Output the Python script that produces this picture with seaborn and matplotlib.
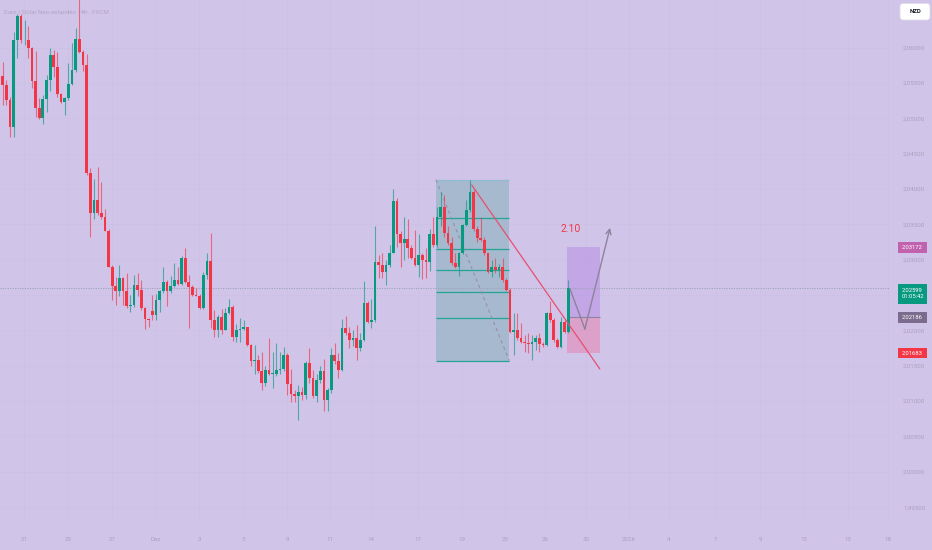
import numpy as np
import matplotlib.pyplot as plt
import matplotlib.transforms as mtransforms
from matplotlib.patches import Rectangle, FancyBboxPatch
import seaborn as sns

bg = "#d1c4e9"
sns.set_theme(style="white", rc={"axes.facecolor": bg, "figure.facecolor": bg})
plt.rcParams["font.family"] = ["Roboto", "DejaVu Sans"]

# EUR/NZD 4h candles
opens = [
    2.0560, 2.0547, 2.0526, 2.0487, 2.0611, 2.0645, 2.0610, 2.0611, 2.0599, 2.0552,
    2.0514, 2.0500, 2.0527, 2.0554, 2.0589, 2.0573, 2.0534, 2.0523, 2.0528, 2.0549,
    2.0568, 2.0612, 2.0594, 2.0575, 2.0422, 2.0366, 2.0384, 2.0366, 2.0361, 2.0341,
    2.0290, 2.0263, 2.0255, 2.0274, 2.0255, 2.0234, 2.0236, 2.0264, 2.0257, 2.0231,
    2.0216, 2.0228, 2.0222, 2.0243, 2.0255, 2.0269, 2.0255, 2.0263, 2.0271, 2.0266,
    2.0302, 2.0269, 2.0262, 2.0250, 2.0249, 2.0231, 2.0278, 2.0298, 2.0215, 2.0201,
    2.0219, 2.0201, 2.0224, 2.0233, 2.0190, 2.0200, 2.0202, 2.0205, 2.0179, 2.0156,
    2.0158, 2.0143, 2.0126, 2.0144, 2.0138, 2.0139, 2.0144, 2.0145, 2.0165, 2.0124,
    2.0110, 2.0107, 2.0113, 2.0109, 2.0154, 2.0132, 2.0107, 2.0130, 2.0142, 2.0102,
    2.0115, 2.0165, 2.0156, 2.0144, 2.0204, 2.0196, 2.0187, 2.0189, 2.0175, 2.0187,
    2.0239, 2.0212, 2.0214, 2.0296, 2.0293, 2.0282, 2.0292, 2.0310, 2.0383, 2.0336,
    2.0324, 2.0329, 2.0317, 2.0303, 2.0292, 2.0307, 2.0300, 2.0297, 2.0336, 2.0321,
    2.0361, 2.0375, 2.0337, 2.0323, 2.0295, 2.0289, 2.0309, 2.0349, 2.0370, 2.0396,
    2.0344, 2.0330, 2.0328, 2.0309, 2.0283, 2.0290, 2.0285, 2.0290, 2.0271, 2.0257,
    2.0198, 2.0201, 2.0189, 2.0184, 2.0182, 2.0181, 2.0183, 2.0189, 2.0181, 2.0179,
    2.0224, 2.0215, 2.0186, 2.0177, 2.0212, 2.0198,
]
highs = [
    2.0580, 2.0554, 2.0530, 2.0622, 2.0647, 2.0647, 2.0639, 2.0630, 2.0601, 2.0595,
    2.0529, 2.0533, 2.0561, 2.0599, 2.0596, 2.0594, 2.0536, 2.0530, 2.0578, 2.0606,
    2.0627, 2.0670, 2.0596, 2.0591, 2.0429, 2.0414, 2.0431, 2.0410, 2.0371, 2.0343,
    2.0292, 2.0276, 2.0292, 2.0276, 2.0281, 2.0250, 2.0278, 2.0281, 2.0271, 2.0233,
    2.0218, 2.0250, 2.0252, 2.0257, 2.0290, 2.0271, 2.0277, 2.0295, 2.0289, 2.0305,
    2.0316, 2.0278, 2.0264, 2.0260, 2.0251, 2.0282, 2.0309, 2.0338, 2.0229, 2.0222,
    2.0230, 2.0231, 2.0244, 2.0236, 2.0209, 2.0218, 2.0215, 2.0205, 2.0181, 2.0179,
    2.0165, 2.0170, 2.0149, 2.0189, 2.0170, 2.0182, 2.0170, 2.0176, 2.0168, 2.0146,
    2.0116, 2.0123, 2.0120, 2.0156, 2.0175, 2.0144, 2.0139, 2.0150, 2.0160, 2.0118,
    2.0175, 2.0182, 2.0168, 2.0216, 2.0220, 2.0205, 2.0201, 2.0208, 2.0196, 2.0270,
    2.0241, 2.0245, 2.0348, 2.0307, 2.0309, 2.0300, 2.0321, 2.0400, 2.0387, 2.0340,
    2.0361, 2.0358, 2.0321, 2.0342, 2.0336, 2.0309, 2.0316, 2.0344, 2.0361, 2.0375,
    2.0396, 2.0391, 2.0347, 2.0332, 2.0309, 2.0311, 2.0351, 2.0384, 2.0413, 2.0399,
    2.0347, 2.0361, 2.0332, 2.0309, 2.0300, 2.0302, 2.0294, 2.0302, 2.0274, 2.0260,
    2.0224, 2.0224, 2.0210, 2.0193, 2.0196, 2.0193, 2.0193, 2.0196, 2.0184, 2.0226,
    2.0241, 2.0217, 2.0189, 2.0219, 2.0215, 2.0271,
]
lows = [
    2.0519, 2.0519, 2.0473, 2.0474, 2.0585, 2.0606, 2.0604, 2.0585, 2.0543, 2.0502,
    2.0499, 2.0492, 2.0509, 2.0538, 2.0559, 2.0530, 2.0522, 2.0505, 2.0526, 2.0547,
    2.0566, 2.0592, 2.0567, 2.0420, 2.0332, 2.0358, 2.0363, 2.0358, 2.0340, 2.0289,
    2.0243, 2.0236, 2.0248, 2.0236, 2.0231, 2.0226, 2.0233, 2.0248, 2.0229, 2.0202,
    2.0205, 2.0215, 2.0215, 2.0226, 2.0253, 2.0234, 2.0253, 2.0262, 2.0264, 2.0264,
    2.0267, 2.0204, 2.0249, 2.0248, 2.0230, 2.0230, 2.0272, 2.0204, 2.0191, 2.0190,
    2.0195, 2.0200, 2.0223, 2.0185, 2.0183, 2.0183, 2.0201, 2.0178, 2.0149, 2.0138,
    2.0140, 2.0115, 2.0121, 2.0137, 2.0118, 2.0135, 2.0139, 2.0142, 2.0109, 2.0099,
    2.0099, 2.0073, 2.0102, 2.0103, 2.0125, 2.0104, 2.0098, 2.0125, 2.0086, 2.0086,
    2.0112, 2.0153, 2.0132, 2.0142, 2.0193, 2.0175, 2.0178, 2.0158, 2.0171, 2.0185,
    2.0210, 2.0204, 2.0212, 2.0274, 2.0274, 2.0264, 2.0289, 2.0309, 2.0318, 2.0290,
    2.0300, 2.0303, 2.0301, 2.0291, 2.0276, 2.0272, 2.0274, 2.0284, 2.0318, 2.0318,
    2.0347, 2.0332, 2.0321, 2.0292, 2.0288, 2.0277, 2.0308, 2.0347, 2.0368, 2.0340,
    2.0325, 2.0326, 2.0307, 2.0281, 2.0276, 2.0281, 2.0276, 2.0269, 2.0256, 2.0196,
    2.0165, 2.0186, 2.0182, 2.0170, 2.0168, 2.0158, 2.0172, 2.0170, 2.0177, 2.0178,
    2.0212, 2.0184, 2.0175, 2.0175, 2.0196, 2.0196,
]
closes = [
    2.0547, 2.0526, 2.0487, 2.0611, 2.0645, 2.0610, 2.0611, 2.0599, 2.0552, 2.0514,
    2.0500, 2.0527, 2.0554, 2.0589, 2.0573, 2.0534, 2.0523, 2.0528, 2.0549, 2.0568,
    2.0612, 2.0594, 2.0575, 2.0422, 2.0366, 2.0384, 2.0366, 2.0361, 2.0341, 2.0290,
    2.0263, 2.0255, 2.0274, 2.0255, 2.0234, 2.0236, 2.0264, 2.0257, 2.0231, 2.0216,
    2.0214, 2.0222, 2.0243, 2.0255, 2.0269, 2.0255, 2.0263, 2.0271, 2.0266, 2.0302,
    2.0269, 2.0262, 2.0250, 2.0249, 2.0231, 2.0278, 2.0298, 2.0215, 2.0201, 2.0219,
    2.0201, 2.0224, 2.0233, 2.0190, 2.0200, 2.0202, 2.0205, 2.0179, 2.0156, 2.0158,
    2.0143, 2.0126, 2.0144, 2.0138, 2.0139, 2.0144, 2.0145, 2.0165, 2.0124, 2.0110,
    2.0107, 2.0113, 2.0109, 2.0154, 2.0132, 2.0107, 2.0130, 2.0142, 2.0102, 2.0115,
    2.0165, 2.0156, 2.0144, 2.0204, 2.0196, 2.0187, 2.0189, 2.0175, 2.0187, 2.0239,
    2.0212, 2.0214, 2.0296, 2.0293, 2.0282, 2.0292, 2.0310, 2.0383, 2.0336, 2.0324,
    2.0329, 2.0317, 2.0303, 2.0292, 2.0307, 2.0300, 2.0297, 2.0336, 2.0321, 2.0361,
    2.0375, 2.0337, 2.0323, 2.0295, 2.0289, 2.0309, 2.0349, 2.0370, 2.0396, 2.0344,
    2.0330, 2.0328, 2.0309, 2.0283, 2.0290, 2.0285, 2.0290, 2.0271, 2.0257, 2.0198,
    2.0201, 2.0189, 2.0184, 2.0182, 2.0181, 2.0183, 2.0189, 2.0181, 2.0179, 2.0224,
    2.0215, 2.0186, 2.0177, 2.0212, 2.0198, 2.02599,
]

time_labels = ["21", "25", "27", "Dez", "3", "5", "9", "11", "14", "17", "19",
               "23", "26", "30", "2026", "4", "7", "9", "13", "15", "18"]
time_pos = [5.8, 17.9, 29.9, 42.0, 53.8, 65.8, 77.9, 89.7, 100.9, 113.8, 125.8,
            137.6, 148.6, 159.8, 171.6, 182.5, 195.4, 207.5, 219.5, 231.6, 242.5]
price_ticks = [1.995, 2.000, 2.005, 2.010, 2.015, 2.020, 2.025,
               2.030, 2.035, 2.040, 2.045, 2.050, 2.055, 2.060]

# fib retracement and long-position drawing
fib_x = [118.7, 138.8]
fib_low, fib_high = 2.0157, 2.0413
fib_levels = [0, 0.236, 0.382, 0.5, 0.618, 0.786, 1]
trend_x = [128.5, 163.6]
trend_y = [2.04056, 2.01454]
pos_x = [154.7, 163.6]
pos_target, pos_entry, pos_stop = 2.03172, 2.02186, 2.01683
path_x = [155.4, 159.5, 166.4]
path_y = [2.0259, 2.0202, 2.0345]
last_price = 2.02599
countdown = "01:05:42"

UP, DOWN = "#089981", "#f23645"
TXT = "#aaa0bc"

fig = plt.figure(figsize=(9.32, 5.5), dpi=100)
AX_W, AX_H = 890, 522
ax = fig.add_axes([0, (550 - AX_H) / 550, AX_W / 932, AX_H / 550])
ax.set_xlim(-0.74, 243.1)
ax.set_ylim(1.99290, 2.06672)
for s in ax.spines.values():
    s.set_visible(False)

o = np.array(opens); h = np.array(highs); l = np.array(lows); c = np.array(closes)
x = np.arange(len(c))
cols = np.where(c >= o, UP, DOWN)
bottom = np.minimum(o, c)
height = np.maximum(np.abs(c - o), 0.00012)
ax.vlines(x, np.minimum(l, bottom), np.maximum(h, bottom + height), colors=cols,
          lw=0.8, alpha=0.65, zorder=3)
ax.bar(x, height, bottom=bottom, width=0.74, color=cols, lw=0, zorder=4)

# grid + axes labels (the scale label sitting under the live-price tag is hidden, as on the chart)
ax.set_xticks(time_pos)
ax.set_xticklabels(time_labels)
ax.set_yticks(price_ticks)
ax.set_yticklabels(["" if abs(v - last_price) < 0.0015 else f"{v:.5f}".replace(".", ",")
                    for v in price_ticks])
ax.grid(True, color="#cdc1e5", lw=0.6, zorder=0)
ax.yaxis.tick_right()
ax.tick_params(axis="y", length=0, pad=9.4, labelsize=4.4, labelcolor=TXT)
ax.tick_params(axis="x", length=0, pad=10.5, labelsize=4.4, labelcolor=TXT)

# current price line
ax.axhline(last_price, color="#9aa3b5", lw=0.8, ls=(0, (1, 1.2)), zorder=2)

# fib box
ax.add_patch(Rectangle((fib_x[0], fib_low), fib_x[1] - fib_x[0], fib_high - fib_low,
                       fc="#7fb0b7", alpha=0.5, lw=0, zorder=1))
for r in fib_levels:
    yv = fib_low + r * (fib_high - fib_low)
    ax.hlines(yv, fib_x[0], fib_x[1], color="#8fbcd0" if r == 1 else "#22a594",
              lw=0.9, zorder=2)
ax.plot(fib_x, [fib_high, fib_low], color="#978ea8", lw=0.8, ls=(0, (3, 3)), zorder=2)

# trend line
ax.plot(trend_x, trend_y, color="#e5506f", lw=0.9, zorder=5)

# long position tool
ax.add_patch(Rectangle((pos_x[0], pos_entry), pos_x[1] - pos_x[0], pos_target - pos_entry,
                       fc="#a970e0", alpha=0.35, lw=0, zorder=1))
ax.add_patch(Rectangle((pos_x[0], pos_stop), pos_x[1] - pos_x[0], pos_entry - pos_stop,
                       fc="#f06292", alpha=0.35, lw=0, zorder=1))
ax.hlines(pos_entry, pos_x[0], pos_x[1], color="#8d84a0", lw=0.8, zorder=2)

# projected path
sns.lineplot(x=path_x[:2], y=path_y[:2], sort=False, color="#8c839b", lw=1, ax=ax, zorder=6)
ax.annotate("", xy=(path_x[2], path_y[2]), xytext=(path_x[1], path_y[1]),
            arrowprops=dict(arrowstyle="->", color="#8c839b", lw=1, shrinkA=0, shrinkB=0,
                            mutation_scale=9), zorder=6)
ax.text(155.7, 2.0343, "2.10", color=DOWN, fontsize=7.5, ha="center", va="center", zorder=6)

# price scale tags
px = 1 / AX_W
bt = mtransforms.blended_transform_factory(ax.transAxes, ax.transData)
ppu = AX_H / (2.06672 - 1.99290)


def tag(price, text, fc, top_px=5.0, bot_px=5.5, shift_px=0.0):
    ax.add_patch(Rectangle((898 * px, price - bot_px / ppu), 29 * px, (top_px + bot_px) / ppu,
                           transform=bt, fc=fc, lw=0, clip_on=False, zorder=7))
    ax.text(912.5 * px, price - shift_px / ppu, text, transform=bt, color="white",
            fontsize=4.2, ha="center", va="center", linespacing=1.45,
            clip_on=False, zorder=8)


tag(pos_target, "2,03172", "#c062ae")
tag(last_price, "2,02599\n" + countdown, UP, top_px=4.2, bot_px=16.0, shift_px=5.1)
tag(pos_entry, "2,02186", "#7b6b8c")
tag(pos_stop, "2,01683", DOWN)

# currency button and title
fig.add_artist(FancyBboxPatch((900, 550 - 20), 30, 16.5, boxstyle="round,pad=0,rounding_size=3",
                              transform=mtransforms.IdentityTransform(),
                              fc="white", ec="#e0dbe8", lw=0.5))
fig.text(915 / 932, 1 - 11.8 / 550, "NZD", color="#131722", fontsize=4.3,
         ha="center", va="center", weight="bold")
fig.text(4 / 932, 1 - 11.7 / 550, "Euro / Dólar Neo-zelandês · 4h · FXCM",
         color="#b0a6c2", fontsize=4.5, ha="left", va="center")

fig.savefig("out.png", dpi=100, facecolor=bg)
